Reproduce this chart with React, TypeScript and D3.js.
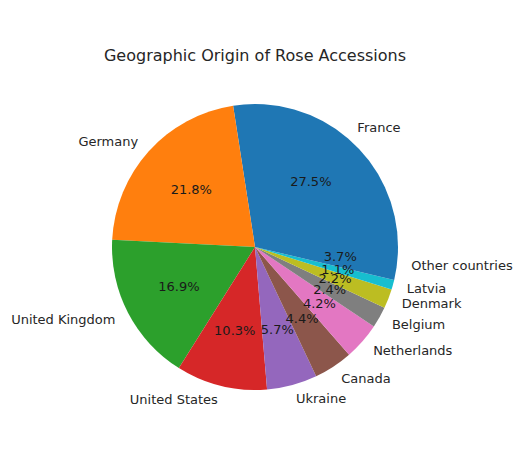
import React from 'react'
import * as d3 from 'd3'

const countries = [
  'France', 'Germany', 'United Kingdom', 'United States', 'Ukraine', 'Canada',
  'Netherlands', 'Belgium', 'Denmark', 'Latvia', 'Other countries'
]
const shares = [27.5, 21.8, 16.9, 10.3, 5.7, 4.4, 4.2, 2.4, 2.2, 1.1, 3.7]
const palette = [
  '#1f77b4', '#ff7f0e', '#2ca02c', '#d62728', '#9467bd',
  '#8c564b', '#e377c2', '#7f7f7f', '#bcbd22', '#17becf'
]

const W = 524
const H = 474
const cx = 255
const cy = 247
const R = 143
const font = 'DejaVu Sans, sans-serif'

export default function App() {
  const total = d3.sum(shares)
  // matplotlib style: start at 3 o'clock, go counter-clockwise
  const angle = d3.scaleLinear().domain([0, total]).range([0, 2 * Math.PI])
  const cum = d3.cumsum(shares)

  const slices = shares.map((v, i) => {
    const a0 = angle(cum[i] - v)
    const a1 = angle(cum[i])
    return { v, i, a0, a1, mid: (a0 + a1) / 2 }
  })

  // d3.arc uses clockwise from 12 o'clock; convert
  const arc = d3.arc<{ a0: number; a1: number }>()
    .innerRadius(0)
    .outerRadius(R)
    .startAngle(d => Math.PI / 2 - d.a1)
    .endAngle(d => Math.PI / 2 - d.a0)

  return (
    <svg width={W} height={H} style={{ display: 'block', margin: '-8px' }}>
      <rect width={W} height={H} fill="#fff" />
      <text x={W / 2 - 7} y={61} textAnchor="middle" fontFamily={font} fontSize={16} fill="#262626">
        Geographic Origin of Rose Accessions
      </text>
      <g transform={`translate(${cx},${cy})`}>
        {slices.map(s => (
          <path key={s.i} d={arc(s) || ''} fill={palette[s.i % palette.length]} />
        ))}
        {slices.map(s => {
          const x = 1.1 * R * Math.cos(s.mid)
          const y = -1.1 * R * Math.sin(s.mid)
          return (
            <text key={'l' + s.i} x={x} y={y} dy="0.35em" textAnchor={x > 0 ? 'start' : 'end'}
              fontFamily={font} fontSize={13} fill="#262626">
              {countries[s.i]}
            </text>
          )
        })}
        {slices.map(s => {
          const x = 0.6 * R * Math.cos(s.mid)
          const y = -0.6 * R * Math.sin(s.mid)
          return (
            <text key={'p' + s.i} x={x} y={y} dy="0.35em" textAnchor="middle"
              fontFamily={font} fontSize={13} fill="#1a1a1a">
              {s.v.toFixed(1)}%
            </text>
          )
        })}
      </g>
    </svg>
  )
}
